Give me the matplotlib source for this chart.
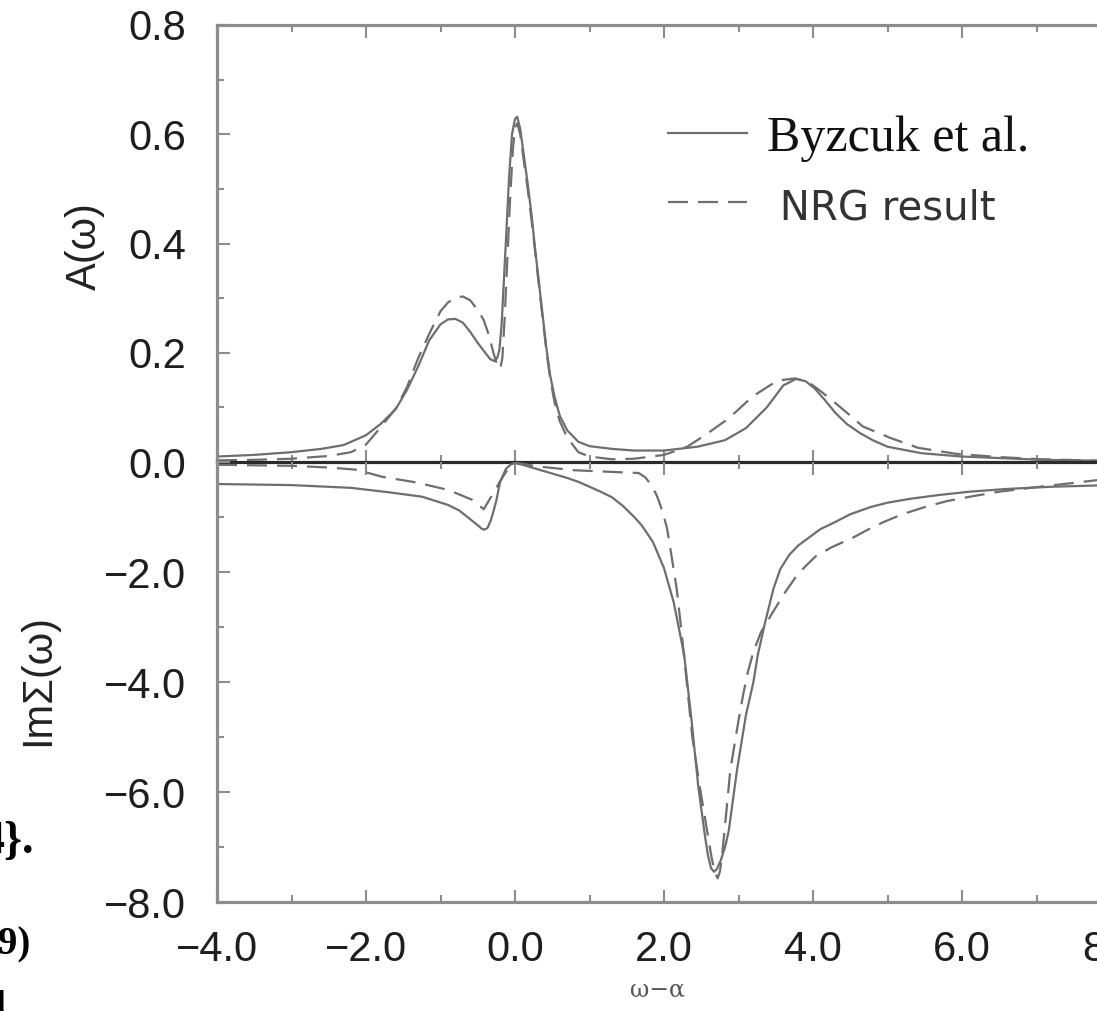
import matplotlib
matplotlib.use("Agg")
import matplotlib.pyplot as plt
import numpy as np

# spectral function A(w): Byzcuk et al. (solid) and NRG (dashed)
a_byz_x = np.array([-4.0, -3.5, -3.0, -2.6, -2.3, -2.0, -1.8, -1.6, -1.45, -1.3, -1.15, -1.0, -0.9, -0.8,
                    -0.7, -0.6, -0.5, -0.4, -0.33, -0.28, -0.24, -0.21, -0.18, -0.15, -0.12, -0.08, -0.04,
                    0.0, 0.03, 0.07, 0.12, 0.17, 0.22, 0.27, 0.32, 0.37, 0.42, 0.47, 0.53, 0.6, 0.7, 0.85,
                    1.0, 1.3, 1.6, 2.0, 2.45, 2.82, 3.1, 3.38, 3.6, 3.77, 3.9, 4.02, 4.15, 4.3, 4.45, 4.63,
                    4.8, 5.0, 5.46, 6.0, 7.07, 8.0])
a_byz_y = np.array([0.010, 0.013, 0.018, 0.024, 0.031, 0.049, 0.070, 0.097, 0.132, 0.175, 0.223, 0.252,
                    0.261, 0.262, 0.255, 0.238, 0.218, 0.200, 0.188, 0.185, 0.190, 0.205, 0.25, 0.33, 0.41,
                    0.52, 0.60, 0.628, 0.632, 0.61, 0.56, 0.51, 0.455, 0.39, 0.33, 0.27, 0.21, 0.16, 0.12,
                    0.085, 0.058, 0.037, 0.029, 0.024, 0.021, 0.021, 0.028, 0.040, 0.062, 0.100, 0.140,
                    0.152, 0.148, 0.135, 0.115, 0.090, 0.070, 0.053, 0.040, 0.028, 0.016, 0.010, 0.004,
                    0.002])

a_nrg_x = np.array([-4.0, -3.5, -3.0, -2.5, -2.2, -2.0, -1.8, -1.6, -1.45, -1.3, -1.15, -1.0, -0.9, -0.8,
                    -0.7, -0.6, -0.5, -0.42, -0.35, -0.29, -0.24, -0.2, -0.17, -0.14, -0.11, -0.07, -0.03,
                    0.0, 0.03, 0.07, 0.12, 0.17, 0.22, 0.27, 0.32, 0.37, 0.42, 0.47, 0.53, 0.6, 0.7, 0.85,
                    1.0, 1.3, 1.6, 2.0, 2.15, 2.31, 2.55, 2.87, 3.19, 3.52, 3.76, 3.93, 4.1, 4.3, 4.5, 4.67,
                    5.04, 5.41, 5.92, 6.5, 7.07, 8.0])
a_nrg_y = np.array([0.003, 0.004, 0.006, 0.011, 0.018, 0.032, 0.064, 0.098, 0.137, 0.190, 0.235, 0.276,
                    0.292, 0.301, 0.303, 0.296, 0.278, 0.260, 0.232, 0.200, 0.178, 0.170, 0.19, 0.26, 0.35,
                    0.47, 0.57, 0.612, 0.62, 0.60, 0.55, 0.50, 0.445, 0.385, 0.325, 0.265, 0.205, 0.155,
                    0.11, 0.075, 0.045, 0.018, 0.010, 0.005, 0.006, 0.013, 0.020, 0.028, 0.049, 0.080,
                    0.120, 0.149, 0.153, 0.147, 0.130, 0.108, 0.085, 0.065, 0.044, 0.026, 0.015, 0.009,
                    0.005, 0.002])

# self energy Im Sigma(w)
s_byz_x = np.array([-4.0, -3.0, -2.2, -1.7, -1.25, -0.9, -0.75, -0.62, -0.5, -0.45, -0.41, -0.37, -0.33,
                    -0.3, -0.25, -0.2, -0.12, -0.05, 0.0, 0.1, 0.25, 0.45, 0.55, 0.7, 0.85, 1.0, 1.15, 1.3,
                    1.45, 1.6, 1.7, 1.85, 2.0, 2.13, 2.27, 2.37, 2.46, 2.55, 2.59, 2.63, 2.67, 2.71, 2.76,
                    2.82, 2.87, 2.92, 2.98, 3.1, 3.2, 3.26, 3.36, 3.47, 3.56, 3.68, 3.8, 3.93, 4.1, 4.3, 4.5,
                    4.77, 5.0, 5.3, 5.69, 6.1, 6.6, 7.2, 8.0])
s_byz_y = np.array([-0.40, -0.42, -0.47, -0.55, -0.63, -0.78, -0.88, -1.02, -1.15, -1.21, -1.23, -1.2,
                    -1.08, -0.95, -0.7, -0.36, -0.12, -0.04, -0.02, -0.05, -0.11, -0.19, -0.23, -0.29,
                    -0.36, -0.45, -0.54, -0.64, -0.8, -1.0, -1.15, -1.45, -1.93, -2.55, -3.5, -4.7, -5.9,
                    -6.8, -7.15, -7.38, -7.45, -7.4, -7.25, -7.0, -6.7, -6.2, -5.6, -4.6, -4.0, -3.5, -2.9,
                    -2.3, -1.95, -1.69, -1.52, -1.39, -1.22, -1.09, -0.95, -0.82, -0.74, -0.67, -0.6,
                    -0.54, -0.49, -0.45, -0.42])

s_nrg_x = np.array([-4.0, -3.0, -2.5, -2.13, -1.78, -1.33, -0.89, -0.57, -0.42, -0.35, -0.2, -0.05, 0.0,
                    0.3, 0.8, 1.3, 1.66, 1.75, 1.83, 1.9, 1.95, 2.0, 2.04, 2.1, 2.17, 2.22, 2.29, 2.38, 2.48,
                    2.59, 2.64, 2.68, 2.72, 2.75, 2.78, 2.82, 2.89, 3.0, 3.06, 3.12, 3.2, 3.3, 3.43, 3.61,
                    3.8, 4.03, 4.25, 4.53, 4.75, 4.95, 5.2, 5.5, 5.8, 6.15, 6.5, 6.98, 7.5, 8.0])
s_nrg_y = np.array([-0.05, -0.07, -0.10, -0.14, -0.27, -0.37, -0.51, -0.69, -0.86, -0.7, -0.35, -0.03,
                    -0.01, -0.08, -0.15, -0.18, -0.2, -0.28, -0.42, -0.6, -0.78, -1.0, -1.2, -1.7, -2.3,
                    -2.9, -3.8, -5.0, -5.9, -6.8, -7.2, -7.45, -7.57, -7.45, -7.15, -6.6, -5.6, -4.7, -4.25,
                    -3.85, -3.45, -3.1, -2.8, -2.4, -2.03, -1.72, -1.55, -1.38, -1.22, -1.09, -0.95, -0.82,
                    -0.71, -0.62, -0.54, -0.46, -0.38, -0.3])

x_ticks = [-4.0, -2.0, 0.0, 2.0, 4.0, 6.0, 8.0]
x_tick_labels = ['\u22124.0', '\u22122.0', '0.0', '2.0', '4.0', '6.0', '8.0']
a_ticks = [0.0, 0.2, 0.4, 0.6, 0.8]
a_tick_labels = ['0.0', '0.2', '0.4', '0.6', '0.8']
s_ticks = [-8.0, -6.0, -4.0, -2.0, 0.0]
s_tick_labels = ['\u22128.0', '\u22126.0', '\u22124.0', '\u22122.0', '']

plt.rcParams['font.family'] = ['Liberation Sans', 'DejaVu Sans']

W, H = 1097, 1011
fig = plt.figure(figsize=(W / 100, H / 100), dpi=100)
left = 217 / W
width = (1111 - 217) / W
ax1 = fig.add_axes([left, 1 - 462 / H, width, (462 - 25) / H])
ax2 = fig.add_axes([left, 1 - 902 / H, width, (902 - 462) / H])
ax2.patch.set_visible(False)

line_col = '#6e6e6e'
spine_col = '#8c8c8c'
lw = 1.6
dash = (9, 4.5)

ax1.plot(a_byz_x, a_byz_y, color=line_col, lw=lw, label='Byzcuk et al.')
ax1.plot(a_nrg_x, a_nrg_y, color=line_col, lw=lw, dashes=dash, label=' NRG result')
ax2.plot(s_byz_x, s_byz_y, color=line_col, lw=lw)
ax2.plot(s_nrg_x, s_nrg_y, color=line_col, lw=lw, dashes=dash)

for ax in (ax1, ax2):
    ax.set_xlim(-4, 8)
    ax.set_xticks(x_ticks)
    ax.set_xticks(np.arange(-4, 9, 1.0), minor=True)
    for s in ax.spines.values():
        s.set_color(spine_col)
        s.set_linewidth(2.3)
    ax.tick_params(which='both', direction='in', color=spine_col, width=1.5,
                   top=True, bottom=True, left=True, right=False,
                   labelsize=30, labelcolor='#1e1e1e')
    ax.tick_params(which='major', length=9)
    ax.tick_params(which='minor', length=5)

ax1.set_ylim(0, 0.8)
ax1.set_yticks(a_ticks)
ax1.set_yticklabels(a_tick_labels)
ax1.set_yticks(np.arange(0, 0.81, 0.1), minor=True)
ax1.tick_params(axis='x', labelbottom=False)
ax1.tick_params(axis='y', pad=22)
ax1.spines['bottom'].set_color('#2a2a2a')
ax1.spines['bottom'].set_linewidth(2.3)
ax1.spines['bottom'].set_zorder(5)

ax2.set_ylim(-8, 0)
ax2.set_yticks(s_ticks)
ax2.set_yticklabels(s_tick_labels)
ax2.set_yticks(np.arange(-8, 0.1, 1.0), minor=True)
ax2.set_xticklabels(x_tick_labels)
ax2.tick_params(axis='y', pad=22)
ax2.tick_params(axis='x', pad=20)
ax2.spines['top'].set_visible(False)

leg = ax1.legend(loc='upper left', bbox_to_anchor=(668 / W, 1 - 115 / H), bbox_transform=fig.transFigure,
                 frameon=False, handlelength=1.58, handletextpad=0.4, labelspacing=0.45,
                 borderpad=0, borderaxespad=0, prop={'family': 'Liberation Serif', 'size': 36})
t = leg.get_texts()
t[0].set_color('#111111')
t[1].set_fontfamily('DejaVu Sans')
t[1].set_fontsize(29)
t[1].set_color('#333333')

fig.text(85 / W, 1 - 246 / H, 'A(\u03c9)', rotation=90, ha='center', va='center', fontsize=30, color='#222222')
fig.text(38 / W, 1 - 680 / H, 'Im\u03a3(\u03c9)', rotation=90, ha='center', va='center', fontsize=30,
         color='#222222')
fig.text(657 / W, 1 - 990 / H, '\u03c9\u2212\u03b1', ha='center', va='center', fontsize=17,
         family='DejaVu Serif', color='#555555')

# fragments of the surrounding page text
fig.text(34 / W, 1 - 842 / H, '4}.', ha='right', va='center', fontsize=33, fontweight='bold',
         family='Liberation Serif')
fig.text(30 / W, 1 - 945 / H, '9)', ha='right', va='center', fontsize=28, fontweight='bold',
         family='Liberation Serif')
fig.text(5 / W, 1 - 1005 / H, 'l', ha='right', va='center', fontsize=22, fontweight='bold',
         family='Liberation Serif')

fig.savefig('out.png', dpi=100)
